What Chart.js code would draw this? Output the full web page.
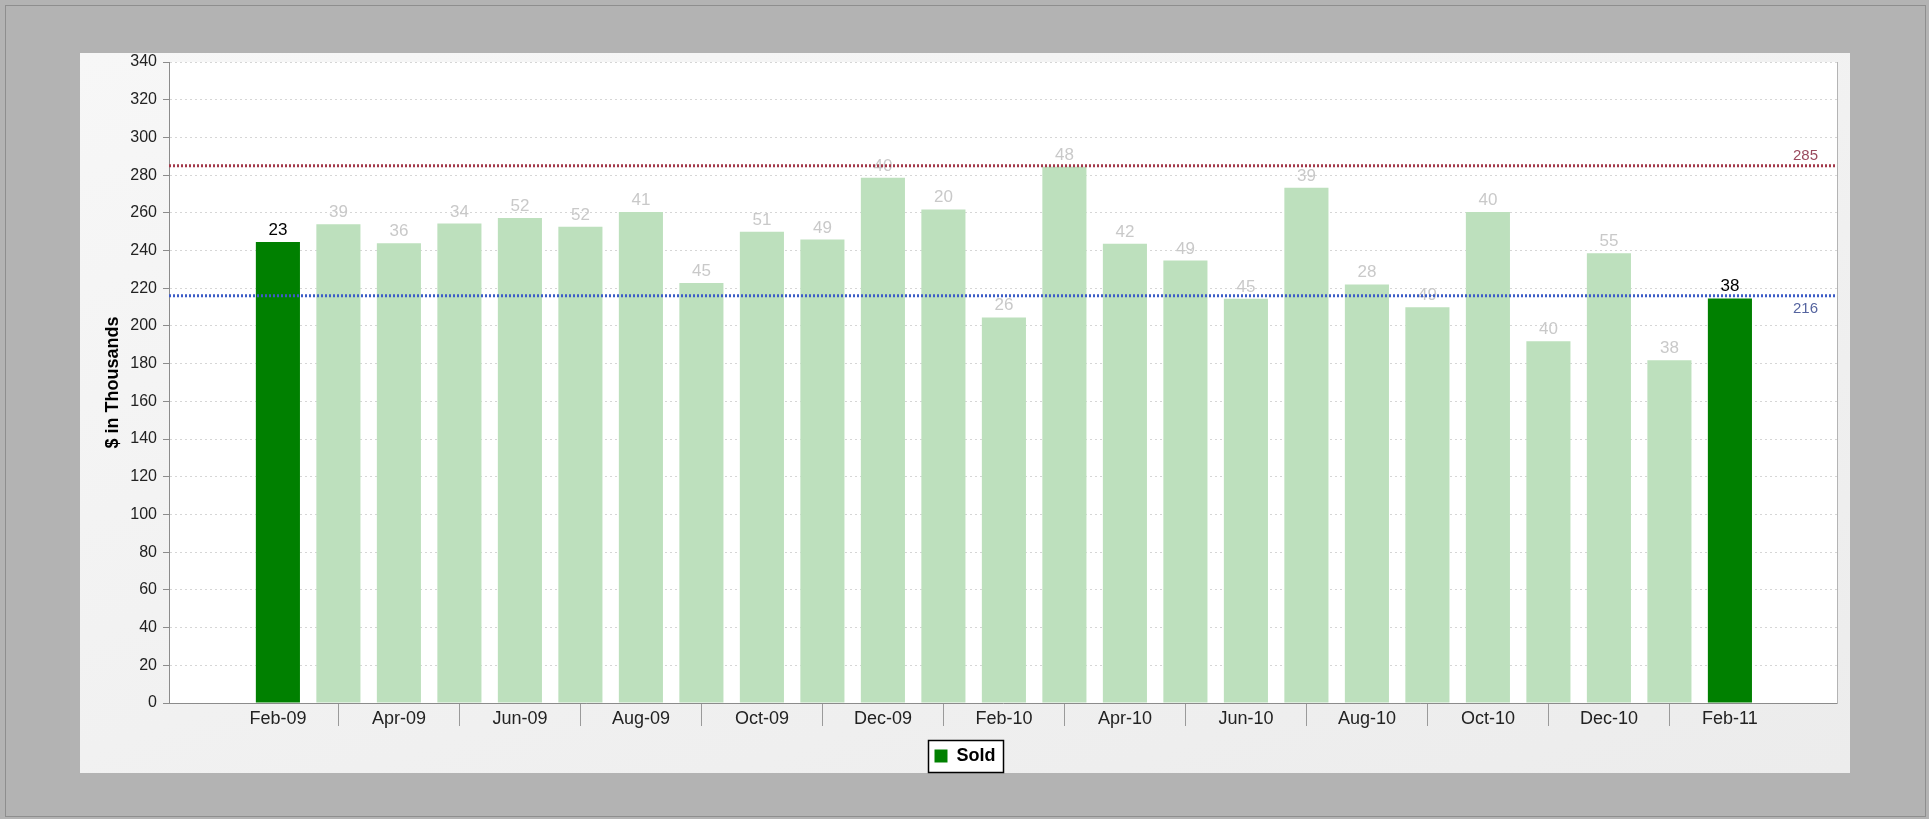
<!DOCTYPE html>
<html><head><meta charset="utf-8">
<script src="https://cdn.jsdelivr.net/npm/chart.js@4.4.0/dist/chart.umd.min.js"></script>
<style>
html,body{margin:0;padding:0;background:#b3b3b3;width:1929px;height:819px;overflow:hidden;}
#frame{position:absolute;left:5px;top:5px;width:1921px;height:812px;border:1px solid #8e8e8e;box-sizing:border-box;}
#panel{position:absolute;left:80px;top:53px;width:1770px;height:720px;background:linear-gradient(160deg,#f7f7f7 0%,#f0f0f0 60%,#ececec 100%);}
#c{position:absolute;left:0;top:0;display:block}
</style></head><body>
<div id="frame"></div>
<div id="panel"><canvas id="c" width="1770" height="722"></canvas></div>
<script>
// ---- data ----
const months = ['Feb-09','Mar-09','Apr-09','May-09','Jun-09','Jul-09','Aug-09','Sep-09','Oct-09','Nov-09','Dec-09','Jan-10',
                'Feb-10','Mar-10','Apr-10','May-10','Jun-10','Jul-10','Aug-10','Sep-10','Oct-10','Nov-10','Dec-10','Jan-11','Feb-11'];
const soldValues = [244.5,254,243.8,254.3,257.3,252.6,260.5,222.8,250,245.8,278.6,261.8,
                    204.5,284.5,243.6,234.7,214.4,273.3,222,209.9,260.5,191.9,238.6,181.8,214.6];
const countLabels = ['23','39','36','34','52','52','41','45','51','49','40','20',
                     '26','48','42','49','45','39','28','49','40','40','55','38','38'];
const highlighted = ['Feb-09','Feb-11'];
const refValues = [285, 216];
const refLabels = ['285', '216'];
const yTickMax = 340, yTickStep = 20;
const seriesName = 'Sold';
const yTitle = '$ in Thousands';

// ---- styles ----
const FONT = "'Liberation Sans', Arial, sans-serif";
const darkGreen = '#008000';
const lightGreen = '#bde0bd';
const refColors = ['#a3384a', '#3d5cc6'];
const refTextColors = ['#9a4a5e', '#55649f'];

Chart.defaults.font.family = FONT;

const barColors = months.map(m => highlighted.includes(m) ? darkGreen : lightGreen);
const labelColors = months.map(m => highlighted.includes(m) ? '#000000' : '#c9c9c9');

const decorPlugin = {
  id: 'decor',
  beforeDraw(chart) {
    const {ctx, chartArea: a} = chart;
    ctx.save();
    ctx.fillStyle = '#ffffff';
    ctx.fillRect(a.left, a.top, a.right - a.left, a.bottom - a.top);
    const lg = chart.legend;
    if (lg && lg.legendHitBoxes && lg.legendHitBoxes.length) {
      const hb = lg.legendHitBoxes[0];
      const x = Math.round(hb.left - 7) + 0.5, y = Math.round(hb.top - 7) + 0.5;
      const w = Math.round(hb.width + 14), h = Math.round(hb.height + 14);
      ctx.fillStyle = '#ffffff';
      ctx.fillRect(x, y, w, h);
      ctx.strokeStyle = '#000000';
      ctx.lineWidth = 1.5;
      ctx.strokeRect(x, y, w, h);
    }
    ctx.restore();
  },
  afterDatasetsDraw(chart) {
    const {ctx, chartArea: a, scales} = chart;
    const meta = chart.getDatasetMeta(0);
    ctx.save();
    ctx.font = '17px ' + FONT;
    ctx.textAlign = 'center';
    ctx.textBaseline = 'alphabetic';
    meta.data.forEach((bar, i) => {
      ctx.fillStyle = labelColors[i];
      ctx.fillText(countLabels[i], bar.x, bar.y - 7);
    });
    refValues.forEach((v, k) => {
      const y = scales.y.getPixelForValue(v);
      ctx.strokeStyle = refColors[k];
      ctx.lineWidth = 3;
      ctx.setLineDash([2, 2]);
      ctx.beginPath();
      ctx.moveTo(a.left, y);
      ctx.lineTo(a.right, y);
      ctx.stroke();
      ctx.setLineDash([]);
      ctx.font = '15px ' + FONT;
      ctx.textAlign = 'right';
      ctx.fillStyle = refTextColors[k];
      ctx.fillText(refLabels[k], a.right - 19, k === 0 ? y - 6 : y + 17);
    });
    ctx.restore();
  }
};

new Chart(document.getElementById('c'), {
  type: 'bar',
  data: {
    datasets: [{
      label: seriesName,
      data: soldValues.map((v, i) => ({x: i, y: v})),
      backgroundColor: barColors,
      borderWidth: 0,
      barPercentage: 0.9,
      categoryPercentage: 0.81
    }]
  },
  options: {
    responsive: false,
    animation: false,
    devicePixelRatio: 1,
    layout: {padding: {top: 9, right: 0, left: 0, bottom: 0}},
    plugins: {
      tooltip: {enabled: false},
      legend: {
        position: 'bottom',
        labels: {
          font: {family: FONT, size: 18, weight: 'bold'},
          color: '#000000',
          boxWidth: 13,
          boxHeight: 13,
          padding: 0,
          generateLabels: () => [{
            text: seriesName, fillStyle: darkGreen, strokeStyle: darkGreen,
            lineWidth: 0, hidden: false, datasetIndex: 0
          }]
        }
      }
    },
    scales: {
      x: {
        type: 'linear',
        min: -1.8,
        max: 25.77,
        offset: false,
        grid: {
          offset: false,
          drawOnChartArea: false,
          drawTicks: true,
          tickLength: 23,
          tickWidth: 1,
          tickColor: (ctx) => {
            const v = ctx.tick ? ctx.tick.value : NaN;
            return (Number.isInteger(v) && v > 0 && v < months.length - 1 && v % 2 === 1) ? '#9a9a9a' : 'rgba(0,0,0,0)';
          }
        },
        border: {color: '#8c8c8c', width: 1},
        ticks: {
          stepSize: 1,
          includeBounds: false,
          autoSkip: false,
          maxRotation: 0,
          minRotation: 0,
          padding: -18,
          color: '#222222',
          font: {size: 18},
          callback: (v) => (Number.isInteger(v) && v >= 0 && v < months.length && v % 2 === 0) ? months[v] : ''
        },
        afterFit: (s) => { s.height = 44; s.paddingLeft = 0; s.paddingRight = 0; }
      },
      y: {
        min: 0,
        max: yTickMax,
        grid: {
          color: '#d6d6d6',
          lineWidth: 1,
          tickLength: 6,
          tickColor: '#8c8c8c',
          tickBorderDash: []
        },
        border: {color: '#8c8c8c', width: 1, dash: [2, 3]},
        ticks: {
          stepSize: yTickStep,
          padding: 6,
          color: '#222222',
          font: {size: 16}
        },
        title: {
          display: true,
          text: yTitle,
          color: '#000000',
          font: {size: 18, weight: 'bold'},
          padding: {top: 22, bottom: 0}
        },
        afterFit: (s) => { s.width = 89; s.paddingTop = 0; s.paddingBottom = 0; }
      },
      yRight: {
        position: 'right',
        min: 0,
        max: yTickMax,
        grid: {drawOnChartArea: false, drawTicks: false},
        ticks: {display: false},
        border: {color: '#b4b4b4', width: 1},
        afterFit: (s) => { s.width = 13; s.paddingTop = 0; s.paddingBottom = 0; }
      }
    }
  },
  plugins: [decorPlugin]
});
</script>
</body></html>
